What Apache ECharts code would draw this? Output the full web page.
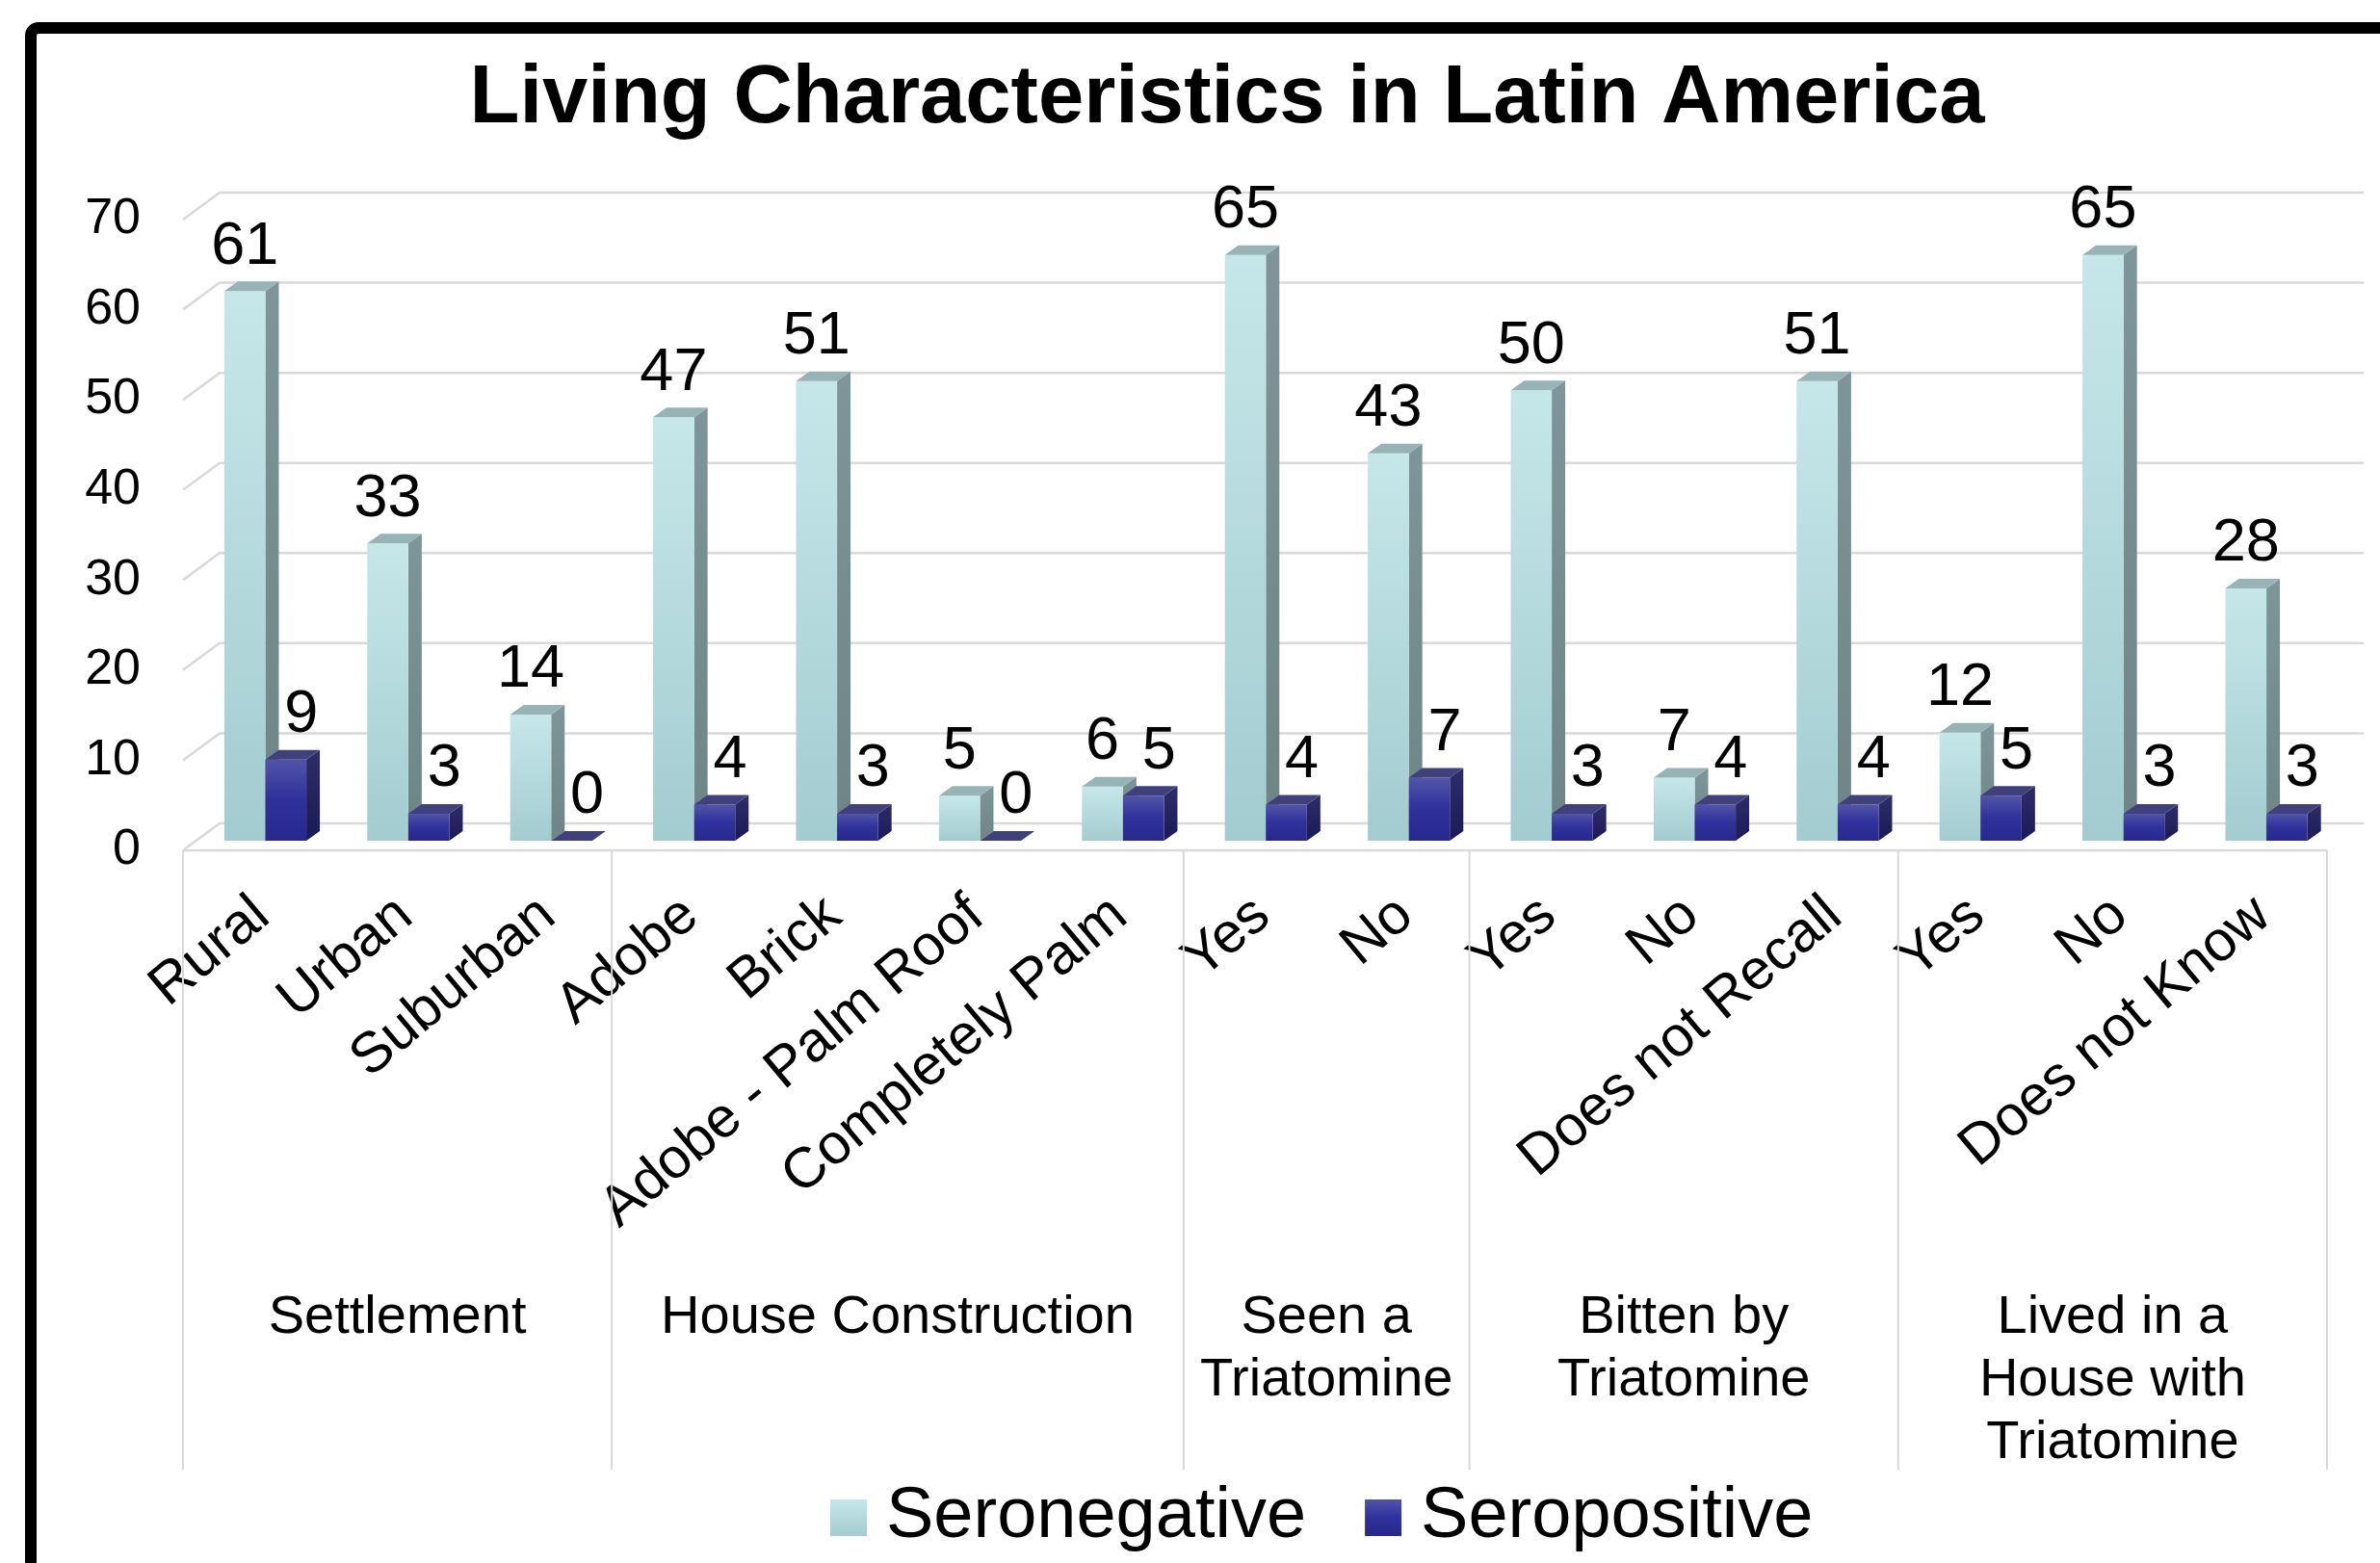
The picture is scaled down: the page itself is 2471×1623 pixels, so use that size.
<!DOCTYPE html>
<html>
<head>
<meta charset="utf-8">
<script src="https://cdn.jsdelivr.net/npm/echarts@6/dist/echarts.min.js"></script>
<style>
html,body{margin:0;padding:0;background:#fff;}
#chart{width:2471px;height:1623px;}
</style>
</head>
<body>
<div id="chart"></div>
<script>
const categories = ['Rural', 'Urban', 'Suburban', 'Adobe', 'Brick', 'Adobe - Palm Roof', 'Completely Palm', 'Yes', 'No', 'Yes', 'No', 'Does not Recall', 'Yes', 'No', 'Does not Know'];
const seronegative = [61, 33, 14, 47, 51, 5, 6, 65, 43, 50, 7, 51, 12, 65, 28];
const seropositive = [9, 3, 0, 4, 3, 0, 5, 4, 7, 3, 4, 4, 5, 3, 3];
const groupNames = ['Settlement', 'House Construction', 'Seen a\nTriatomine', 'Bitten by\nTriatomine', 'Lived in a\nHouse with\nTriatomine'];
const groupStart = [0, 3, 7, 9, 12];
const groupEnd = [2, 6, 8, 11, 14];
const yTicks = [0, 10, 20, 30, 40, 50, 60, 70];
const seriesNames = ['Seronegative', 'Seropositive'];

const FONT = '"Liberation Sans", Arial, Helvetica, sans-serif';
const G = echarts.graphic;
const lg = (stops) => new G.LinearGradient(0, 0, 0, 1, stops.map((c, i) => ({offset: i / (stops.length - 1), color: c})));

const styles = [
  {front: ['#c6e7ea', '#a3ccd0'], side: ['#7e9699', '#6e8487'], top: '#98b3b5', pos: -0.211, lab: 0},
  {front: ['#5254a8', '#2f309a', '#28298e'], side: ['#2e2d68', '#1b1a58'], top: '#40407c', pos: 0.076, lab: 16}
];
const DX = 14, DY = 10, FLOOR = 10, WX = 38, WY = 28;

function barRender(k) {
  return function (params, api) {
    const s = styles[k];
    const i = api.value(0), v = api.value(1);
    const band = api.size([1, 0])[0];
    const c0 = api.coord([i, 0]);
    const c1 = api.coord([i, v]);
    const w = band * 0.287;
    const x0 = c0[0] + s.pos * band;
    const yb = c0[1] - FLOOR, yt = c1[1] - FLOOR;
    return {
      type: 'group',
      children: [
        {type: 'polygon', shape: {points: [[x0 + w, yt], [x0 + w + DX, yt - DY], [x0 + w + DX, yb - DY], [x0 + w, yb]]},
          style: {fill: lg(s.side)}},
        {type: 'rect', shape: {x: x0, y: yt, width: w, height: yb - yt}, style: {fill: lg(s.front)}},
        {type: 'polygon', shape: {points: [[x0, yt], [x0 + DX, yt - DY], [x0 + w + DX, yt - DY], [x0 + w, yt]]},
          style: {fill: s.top}},
        {type: 'text', x: x0 + w / 2 + s.lab, y: yt - DY - 36,
          style: {text: String(v), fill: '#000', font: '63px ' + FONT, align: 'center', verticalAlign: 'middle'}}
      ]
    };
  };
}

function gridRender(params, api) {
  const v = api.value(1);
  const band = api.size([1, 0])[0];
  const p = api.coord([0, v]);
  const L = p[0] - band / 2;
  const R = api.coord([categories.length - 1, v])[0] + band / 2;
  const y = p[1];
  const children = [{type: 'polyline', shape: {points: [[L, y], [L + WX, y - WY], [R + WX, y - WY]]},
    style: {stroke: '#d9d9d9', lineWidth: 2.5, fill: null}}];
  if (v === 0) {
    children.push({type: 'line', shape: {x1: L, y1: y, x2: R, y2: y}, style: {stroke: '#d9d9d9', lineWidth: 2.5}});
  }
  return {type: 'group', children};
}

function groupRender(params, api) {
  const s = api.value(0), e = api.value(1);
  const band = api.size([1, 0])[0];
  const a = api.coord([s, 0]);
  const xL = a[0] - band / 2;
  const xR = api.coord([e, 0])[0] + band / 2;
  const y0 = a[1];
  const children = [
    {type: 'line', shape: {x1: xL, y1: y0, x2: xL, y2: y0 + 643}, style: {stroke: '#d9d9d9', lineWidth: 2}},
    {type: 'text', x: (xL + xR) / 2, y: y0 + 453,
      style: {text: groupNames[params.dataIndex], fill: '#000', font: '56px ' + FONT, align: 'center', verticalAlign: 'top', lineHeight: 65}}
  ];
  if (params.dataIndex === groupNames.length - 1) {
    children.push({type: 'line', shape: {x1: xR, y1: y0, x2: xR, y2: y0 + 643}, style: {stroke: '#d9d9d9', lineWidth: 2}});
  }
  return {type: 'group', children};
}

const chart = echarts.init(document.getElementById('chart'), null, {renderer: 'canvas'});
chart.setOption({
  animation: false,
  backgroundColor: '#ffffff',
  textStyle: {fontFamily: FONT},
  title: {
    text: 'Living Characteristics in Latin America',
    left: 1269, top: 56, textAlign: 'center',
    textStyle: {fontSize: 85, fontWeight: 'bold', color: '#000', fontFamily: FONT}
  },
  graphic: [{
    type: 'rect', shape: {x: 32, y: 29, width: 2700, height: 1800, r: 8},
    style: {fill: null, stroke: '#000', lineWidth: 12}, z: 100
  }],
  legend: {
    data: seriesNames,
    left: 857, top: 1534,
    icon: 'rect', itemWidth: 38, itemHeight: 38, itemGap: 61,
    textStyle: {fontSize: 74, color: '#000', fontFamily: FONT, padding: [0, 0, 0, 15]}
  },
  grid: [
    {left: 190, width: 2226, top: 228, height: 655},
    {left: 198, width: 2226, top: 228, height: 655}
  ],
  xAxis: [
    {type: 'category', data: categories, gridIndex: 0, axisLine: {show: false}, axisTick: {show: false}, axisLabel: {show: false}},
    {type: 'category', data: categories, gridIndex: 1, axisLine: {show: false}, axisTick: {show: false},
      axisLabel: {interval: 0, rotate: 40, margin: 60, fontSize: 59, color: '#000', fontFamily: FONT}}
  ],
  yAxis: [
    {type: 'value', min: 0, max: 70, interval: 10, gridIndex: 0, axisLine: {show: false}, axisTick: {show: false},
      splitLine: {show: false}, axisLabel: {fontSize: 52, color: '#000', margin: 44, fontFamily: FONT}},
    {type: 'value', min: 0, max: 70, interval: 10, gridIndex: 1, show: false, splitLine: {show: false}}
  ],
  series: [
    {type: 'custom', name: 'walls', xAxisIndex: 0, yAxisIndex: 0, z: 1, silent: true,
      data: yTicks.map(t => [0, t]), renderItem: gridRender},
    {type: 'custom', name: 'groups', xAxisIndex: 0, yAxisIndex: 0, z: 1, silent: true,
      data: groupStart.map((s, i) => [s, groupEnd[i]]), renderItem: groupRender},
    {type: 'custom', name: seriesNames[0], xAxisIndex: 0, yAxisIndex: 0, z: 2,
      itemStyle: {color: lg(styles[0].front)},
      data: seronegative.map((v, i) => [i, v]), renderItem: barRender(0)},
    {type: 'custom', name: seriesNames[1], xAxisIndex: 0, yAxisIndex: 0, z: 3,
      itemStyle: {color: lg(styles[1].front)},
      data: seropositive.map((v, i) => [i, v]), renderItem: barRender(1)}
  ]
});
</script>
</body>
</html>
